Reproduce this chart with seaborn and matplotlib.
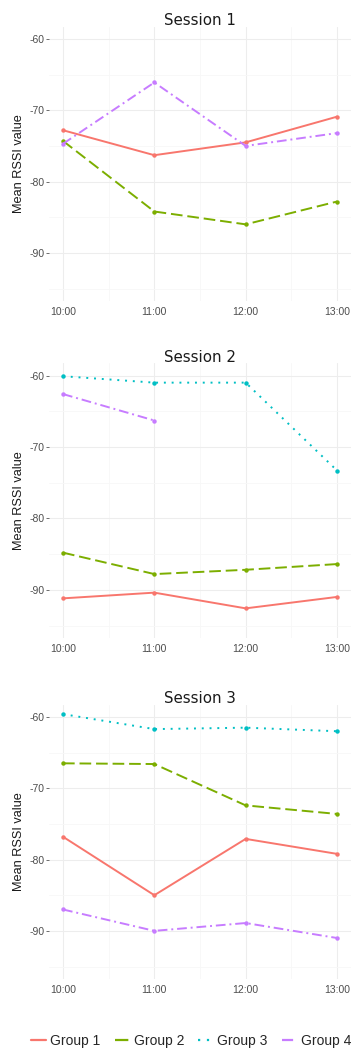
import numpy as np
import pandas as pd
import seaborn as sns
import matplotlib
matplotlib.use("Agg")
import matplotlib.pyplot as plt
from matplotlib.lines import Line2D
from matplotlib.ticker import FixedLocator

hours = ["10:00", "11:00", "12:00", "13:00"]
groups = ["Group 1", "Group 2", "Group 3", "Group 4"]
sessions = ["Session 1", "Session 2", "Session 3"]

# Session 1
s1_g1 = [-72.8, -76.3, -74.5, -70.9]
s1_g2 = [-74.3, -84.2, -86.0, -82.8]
s1_g3 = [np.nan, np.nan, np.nan, np.nan]
s1_g4 = [-74.7, -66.1, -75.0, -73.2]
# Session 2
s2_g1 = [-91.2, -90.4, -92.6, -91.0]
s2_g2 = [-84.8, -87.8, -87.2, -86.4]
s2_g3 = [-60.1, -61.0, -61.0, -73.3]
s2_g4 = [-62.6, -66.3, np.nan, np.nan]
# Session 3
s3_g1 = [-76.8, -85.0, -77.1, -79.2]
s3_g2 = [-66.5, -66.6, -72.4, -73.6]
s3_g3 = [-59.6, -61.7, -61.5, -62.0]
s3_g4 = [-87.0, -90.0, -88.9, -91.0]

y_ticks = [-60, -70, -80, -90]

session_data = {
    "Session 1": [s1_g1, s1_g2, s1_g3, s1_g4],
    "Session 2": [s2_g1, s2_g2, s2_g3, s2_g4],
    "Session 3": [s3_g1, s3_g2, s3_g3, s3_g4],
}

rows = []
for s in sessions:
    for g, vals in zip(groups, session_data[s]):
        for i, (h, v) in enumerate(zip(hours, vals)):
            if not np.isnan(v):
                rows.append({"session": s, "group": g, "x": i, "hour": h, "value": v})
df = pd.DataFrame(rows)

sns.set_theme(style="white")
plt.rcParams["font.family"] = ["Liberation Sans", "DejaVu Sans"]

palette = dict(zip(groups, ["#F8766D", "#7CAE00", "#00BFC4", "#C77CFF"]))
dashes = dict(zip(groups, ["", (6, 2.5), (1, 3), (5, 2, 1, 2)]))
markers = dict(zip(groups, ["o", "o", "o", "o"]))

fig = plt.figure(figsize=(3.54, 10.49), dpi=100)
fig.patch.set_facecolor("white")

W, H = 354, 1049
left_px, right_px = 49.3, 350.7
panel_px = [(26.5, 301), (363, 638), (704.5, 979)]

for s, (top, bot) in zip(sessions, panel_px):
    ax = fig.add_axes([left_px / W, 1 - bot / H, (right_px - left_px) / W, (bot - top) / H])
    sub = df[df["session"] == s]
    hue_order = [g for g in groups if g in set(sub["group"])]
    sns.lineplot(data=sub, x="x", y="value", hue="group", style="group",
                 hue_order=hue_order, style_order=hue_order,
                 palette=palette, dashes=dashes, markers=markers,
                 markersize=3.2, markeredgewidth=0, linewidth=1.4,
                 ax=ax, legend=False, sort=True)
    ax.set_xlim(-0.15, 3.15)
    ax.set_ylim(-96.75, -58.25)
    ax.set_xticks(range(len(hours)))
    ax.set_xticklabels(hours)
    ax.xaxis.set_minor_locator(FixedLocator([0.5, 1.5, 2.5]))
    ax.set_yticks(y_ticks)
    ax.set_yticklabels([str(t) for t in y_ticks])
    ax.yaxis.set_minor_locator(FixedLocator([-95, -85, -75, -65]))
    ax.grid(True, which="major", color="#EDEDED", linewidth=0.8)
    ax.grid(True, which="minor", color="#F7F7F7", linewidth=0.6)
    ax.set_axisbelow(True)
    for sp in ax.spines.values():
        sp.set_visible(False)
    ax.tick_params(axis="y", which="major", length=2.5, width=0.6, color="#555555",
                   labelsize=7.5, labelcolor="#4D4D4D", pad=1, left=True)
    ax.tick_params(axis="x", which="major", length=0, labelsize=7.5,
                   labelcolor="#4D4D4D", pad=4)
    ax.tick_params(which="minor", length=0)
    ax.set_xlabel("")
    ax.set_ylabel("Mean RSSI value", fontsize=9.2, color="#1A1A1A", labelpad=3)
    ax.set_title(s, fontsize=10.8, family="DejaVu Sans", color="#1A1A1A", pad=1)

handles = []
for g in groups:
    h = Line2D([0], [0], color=palette[g], linewidth=1.6)
    if dashes[g]:
        h.set_dashes(dashes[g])
    handles.append(h)
fig.legend(handles, groups, loc="center", bbox_to_anchor=(0.54, 1 - 1041 / H),
           ncol=4, frameon=False, fontsize=10, handlelength=1.08,
           handletextpad=0.3, columnspacing=1.0, borderpad=0.2)

fig.savefig("out.png", dpi=100, facecolor="white")
